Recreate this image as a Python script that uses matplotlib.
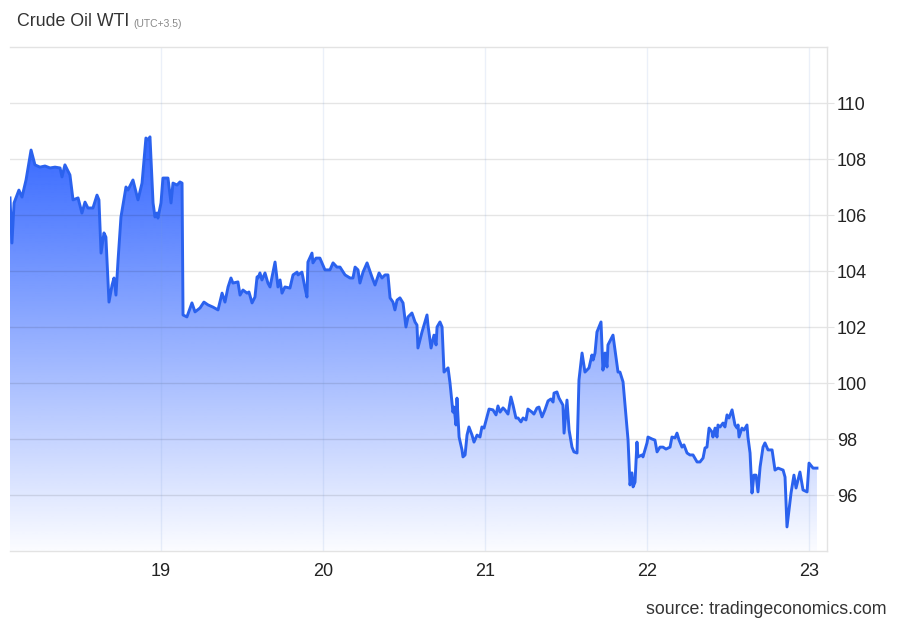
import numpy as np
import matplotlib
matplotlib.use('Agg')
import matplotlib.pyplot as plt
from matplotlib.patches import Polygon

plt.rcParams['font.family'] = ['Liberation Sans', 'DejaVu Sans']

# time in days of the month, price in USD/bbl
days = [
    18.068, 18.080, 18.093, 18.123, 18.142, 18.167, 18.198, 18.222, 18.253, 18.284,
    18.315, 18.346, 18.377, 18.389, 18.407, 18.438, 18.457, 18.488, 18.512, 18.531,
    18.549, 18.580, 18.605, 18.617, 18.630, 18.648, 18.660, 18.679, 18.698, 18.710,
    18.722, 18.735, 18.753, 18.784, 18.796, 18.827, 18.858, 18.883, 18.907, 18.920,
    18.932, 18.951, 18.963, 18.975, 18.981, 19.000, 19.012, 19.043, 19.062, 19.074,
    19.099, 19.117, 19.130, 19.136, 19.160, 19.191, 19.210, 19.241, 19.265, 19.290,
    19.321, 19.352, 19.377, 19.395, 19.414, 19.432, 19.444, 19.475, 19.488, 19.506,
    19.531, 19.543, 19.562, 19.580, 19.593, 19.599, 19.611, 19.623, 19.642, 19.660,
    19.673, 19.704, 19.722, 19.735, 19.747, 19.765, 19.796, 19.815, 19.840, 19.846,
    19.870, 19.889, 19.901, 19.907, 19.932, 19.938, 19.957, 19.981, 20.012, 20.043,
    20.062, 20.086, 20.105, 20.136, 20.167, 20.185, 20.198, 20.216, 20.228, 20.247,
    20.272, 20.302, 20.321, 20.346, 20.364, 20.383, 20.401, 20.414, 20.432, 20.444,
    20.457, 20.475, 20.494, 20.512, 20.525, 20.549, 20.568, 20.580, 20.586, 20.611,
    20.642, 20.648, 20.667, 20.685, 20.698, 20.704, 20.722, 20.735, 20.747, 20.772,
    20.784, 20.802, 20.809, 20.821, 20.827, 20.840, 20.858, 20.864, 20.877, 20.889,
    20.901, 20.920, 20.932, 20.951, 20.969, 20.981, 20.994, 21.012, 21.025, 21.049,
    21.068, 21.080, 21.093, 21.111, 21.123, 21.142, 21.160, 21.173, 21.191, 21.204,
    21.222, 21.235, 21.253, 21.265, 21.290, 21.302, 21.321, 21.333, 21.352, 21.370,
    21.389, 21.407, 21.420, 21.426, 21.444, 21.457, 21.481, 21.488, 21.506, 21.519,
    21.537, 21.549, 21.568, 21.580, 21.599, 21.617, 21.642, 21.660, 21.667, 21.679,
    21.691, 21.716, 21.728, 21.741, 21.753, 21.759, 21.790, 21.809, 21.821, 21.833,
    21.852, 21.883, 21.895, 21.907, 21.914, 21.926, 21.938, 21.944, 21.969, 21.975,
    22.000, 22.006, 22.031, 22.049, 22.062, 22.080, 22.099, 22.117, 22.142, 22.154,
    22.173, 22.185, 22.198, 22.216, 22.228, 22.247, 22.265, 22.284, 22.309, 22.327,
    22.346, 22.358, 22.370, 22.383, 22.401, 22.407, 22.420, 22.432, 22.438, 22.451,
    22.469, 22.481, 22.494, 22.506, 22.525, 22.531, 22.543, 22.556, 22.562, 22.568,
    22.586, 22.599, 22.617, 22.623, 22.636, 22.648, 22.660, 22.673, 22.685, 22.698,
    22.716, 22.728, 22.747, 22.772, 22.790, 22.809, 22.840, 22.852, 22.864, 22.889,
    22.907, 22.920, 22.944, 22.963, 22.988, 23.000, 23.025, 23.049,
]
prices = [
    106.61, 105.00, 106.43, 106.89, 106.64, 107.25, 108.32, 107.79, 107.71, 107.75,
    107.68, 107.71, 107.68, 107.36, 107.79, 107.43, 106.54, 106.61, 106.07, 106.46,
    106.25, 106.25, 106.71, 106.54, 104.64, 105.36, 105.21, 102.89, 103.50, 103.75,
    103.14, 104.39, 105.93, 107.00, 106.89, 107.25, 106.54, 107.14, 108.75, 108.68,
    108.79, 106.43, 105.93, 106.07, 105.89, 106.43, 107.32, 107.32, 106.43, 107.14,
    107.07, 107.18, 107.14, 102.43, 102.36, 102.86, 102.54, 102.68, 102.89, 102.79,
    102.71, 102.61, 103.21, 102.89, 103.43, 103.75, 103.57, 103.61, 103.14, 103.32,
    103.21, 103.25, 102.86, 103.07, 103.79, 103.75, 103.93, 103.68, 103.93, 103.57,
    103.43, 104.32, 103.43, 103.68, 103.21, 103.43, 103.39, 103.86, 103.96, 103.86,
    103.96, 103.39, 103.07, 104.32, 104.64, 104.29, 104.46, 104.46, 104.04, 104.04,
    104.29, 104.14, 104.14, 103.86, 103.75, 103.75, 104.14, 104.04, 103.57, 103.96,
    104.29, 103.79, 103.50, 103.93, 103.75, 103.86, 103.86, 103.04, 102.89, 102.61,
    102.96, 103.04, 102.86, 102.00, 102.36, 102.50, 102.18, 102.07, 101.25, 101.82,
    102.43, 102.07, 101.25, 101.71, 101.36, 102.00, 102.18, 102.00, 100.39, 100.54,
    100.00, 98.96, 99.14, 98.50, 99.46, 98.07, 97.61, 97.36, 97.43, 98.14,
    98.43, 98.14, 97.89, 98.14, 98.07, 98.43, 98.39, 98.79, 99.07, 99.04,
    98.86, 99.18, 98.96, 99.11, 99.04, 98.89, 99.50, 99.21, 98.75, 98.75,
    98.61, 98.75, 98.68, 99.07, 98.96, 98.89, 99.11, 99.14, 98.79, 99.04,
    99.36, 99.43, 99.32, 99.64, 99.68, 99.46, 99.21, 98.21, 99.39, 98.32,
    97.71, 97.54, 97.50, 100.11, 101.07, 100.39, 100.54, 101.00, 100.82, 101.07,
    101.82, 102.18, 100.46, 101.07, 100.57, 101.36, 101.71, 100.89, 100.39, 100.39,
    100.04, 97.96, 96.36, 96.79, 96.29, 96.46, 97.89, 97.36, 97.43, 97.36,
    97.86, 98.07, 98.00, 97.96, 97.54, 97.71, 97.71, 97.64, 97.71, 98.07,
    98.04, 98.21, 97.96, 97.71, 97.79, 97.50, 97.43, 97.43, 97.18, 97.18,
    97.32, 97.68, 97.71, 98.39, 98.25, 98.07, 98.39, 98.07, 98.50, 98.43,
    98.57, 98.43, 98.86, 98.75, 99.04, 98.86, 98.50, 98.39, 98.50, 98.07,
    98.39, 98.32, 98.50, 98.07, 97.50, 96.07, 96.71, 96.71, 96.11, 97.00,
    97.71, 97.86, 97.61, 97.61, 96.89, 96.96, 96.89, 96.64, 94.86, 96.07,
    96.71, 96.25, 96.82, 96.18, 96.11, 97.14, 96.96, 96.96,
]

x_ticks = [19, 20, 21, 22, 23]
y_ticks = [96, 98, 100, 102, 104, 106, 108, 110]
y_min, y_max = 94, 112
x_min, x_max = 18.068, 23.111

line_color = '#2b62ee'

fig = plt.figure(figsize=(9, 6.24), dpi=100)
ax = fig.add_axes([10 / 900, 73 / 624, 817 / 900, 504 / 624])

# gradient fill under the line
grad = np.zeros((256, 1, 4))
grad[:, 0, 0] = 0.20
grad[:, 0, 1] = 0.40
grad[:, 0, 2] = 1.0
grad[:, 0, 3] = np.linspace(0.02, 1.0, 256)
top = max(prices)
im = ax.imshow(grad, extent=[x_min, x_max, y_min, top], origin='lower',
               aspect='auto', zorder=1, interpolation='bilinear')
verts = [(days[0], y_min)] + list(zip(days, prices)) + [(days[-1], y_min)]
patch = Polygon(verts, facecolor='none', edgecolor='none')
ax.add_patch(patch)
im.set_clip_path(patch)

ax.plot(days, prices, color=line_color, lw=2.1, zorder=3, solid_joinstyle='round')

ax.set_xlim(x_min, x_max)
ax.set_ylim(y_min, y_max)

# grid drawn over the fill, faint
for y in y_ticks:
    ax.axhline(y, color=(0, 0, 0, 0.10), lw=1, zorder=2)
for x in x_ticks:
    ax.axvline(x, color=(0.45, 0.6, 0.85, 0.14), lw=1, zorder=2)

ax.yaxis.tick_right()
ax.set_yticks(y_ticks)
ax.set_xticks(x_ticks)
ax.set_yticklabels([str(v) for v in y_ticks])
ax.set_xticklabels([str(v) for v in x_ticks])
ax.tick_params(axis='y', length=5, color='#e3e3e3', labelsize=13,
               labelcolor='#222222', pad=2)
ax.tick_params(axis='x', length=0, labelsize=13, labelcolor='#222222', pad=9)

ax.spines['left'].set_visible(False)
for s in ['top', 'right', 'bottom']:
    ax.spines[s].set_color('#e3e3e3')
    ax.spines[s].set_linewidth(1)

fig.text(17 / 900, 1 - 22 / 624, 'Crude Oil WTI', fontsize=12.8, color='#333333',
         va='center', ha='left')
fig.text(133 / 900, 1 - 24 / 624, '(UTC+3.5)', fontsize=7.5, color='#888888',
         va='center', ha='left')
fig.text(887 / 900, 1 - 609 / 624, 'source: tradingeconomics.com', fontsize=12.8,
         color='#333333', va='center', ha='right')

fig.savefig('out.png', dpi=100)
